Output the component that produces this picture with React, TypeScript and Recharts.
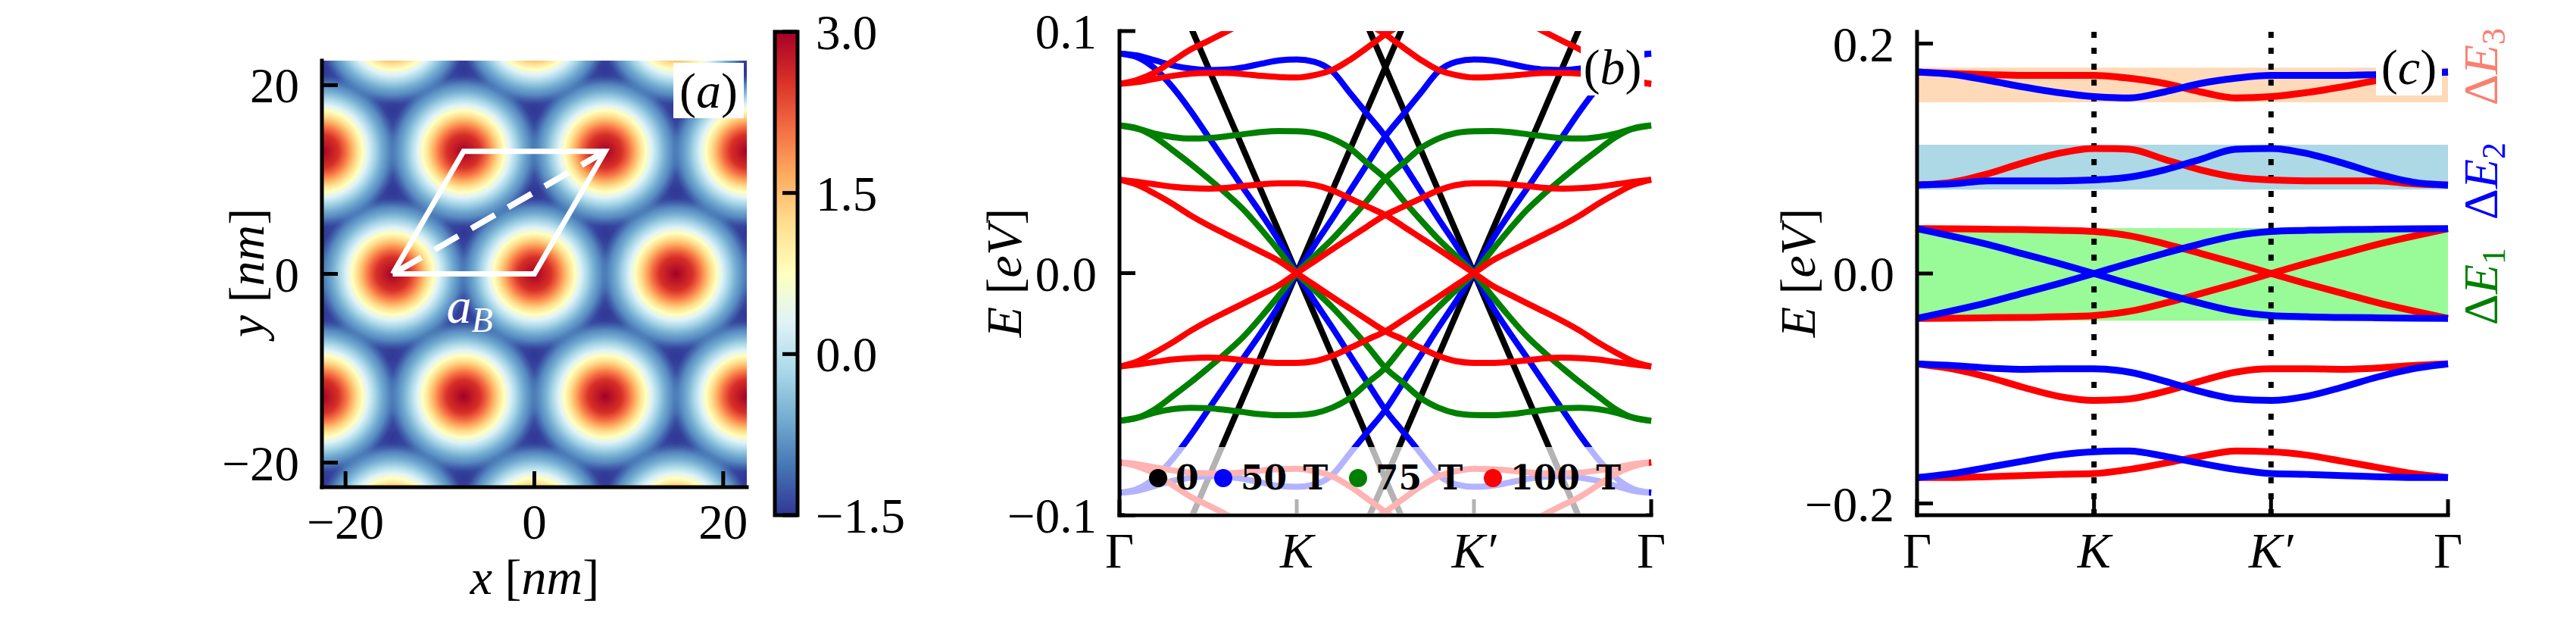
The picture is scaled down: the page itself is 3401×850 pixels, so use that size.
import React from 'react';
import {
  ComposedChart,
  Line,
  Scatter,
  XAxis,
  YAxis,
  ReferenceArea,
  ReferenceLine,
  CartesianGrid,
} from 'recharts';

const SERIF = '"Liberation Serif", "DejaVu Serif", serif';
const TICK_FONT = 65;

// ---------- (a) moiré potential, lattice sites (nm) ----------
const potentialMaxima: [number, number][] = [
  [-30, 0], [-15, 0], [0, 0], [15, 0], [30, 0],
  [-22.5, 12.99], [-7.5, 12.99], [7.5, 12.99], [22.5, 12.99],
  [-22.5, -12.99], [-7.5, -12.99], [7.5, -12.99], [22.5, -12.99],
  [-30, 25.98], [-15, 25.98], [0, 25.98], [15, 25.98], [30, 25.98],
  [-30, -25.98], [-15, -25.98], [0, -25.98], [15, -25.98], [30, -25.98],
];
const potentialMinima: [number, number][] = [
  [-22.5, 4.33], [-7.5, 4.33], [7.5, 4.33], [22.5, 4.33],
  [-30, 8.66], [-15, 8.66], [0, 8.66], [15, 8.66], [30, 8.66],
  [-30, 17.32], [-15, 17.32], [0, 17.32], [15, 17.32], [30, 17.32],
  [-22.5, 21.65], [-7.5, 21.65], [7.5, 21.65], [22.5, 21.65],
  [-22.5, -4.33], [-7.5, -4.33], [7.5, -4.33], [22.5, -4.33],
  [-30, -8.66], [-15, -8.66], [0, -8.66], [15, -8.66], [30, -8.66],
  [-30, -17.32], [-15, -17.32], [0, -17.32], [15, -17.32], [30, -17.32],
  [-22.5, -21.65], [-7.5, -21.65], [7.5, -21.65], [22.5, -21.65],
];
const unitCell: [number, number][] = [[-15, 0], [0, 0], [7.5, 12.99], [-7.5, 12.99], [-15, 0]];
const cellDiagonal: [number, number][] = [[7.5, 12.99], [-15, 0]];
const spaceTicks = [-20, 0, 20];
const colorbarRange = [-1.5, 3.0];
const colorbarTicks = [-1.5, 0, 1.5, 3.0];

// ---------- (b) bands along Γ-K-K'-Γ for several fields ----------
const kPath = [0, 0.1, 0.2, 0.3, 0.4, 0.5, 0.6, 0.7, 0.8, 0.9, 1, 1.1, 1.2, 1.3, 1.4, 1.5,
  1.6, 1.7, 1.8, 1.9, 2, 2.1, 2.2, 2.3, 2.4, 2.5, 2.6, 2.7, 2.8, 2.9, 3];
const kPathRev = [3, 2.9, 2.8, 2.7, 2.6, 2.5, 2.4, 2.3, 2.2, 2.1, 2, 1.9, 1.8, 1.7, 1.6, 1.5,
  1.4, 1.3, 1.2, 1.1, 1, 0.9, 0.8, 0.7, 0.6, 0.5, 0.4, 0.3, 0.2, 0.1, 0];
const kTicks = [0, 1, 2, 3];
const kLabels = ['Γ', 'K', 'K′', 'Γ'];
const energyTicksB = [-0.1, 0, 0.1];

const fieldLabels = ['0', '50 T', '75 T', '100 T'];
const fieldColors = ['#000000', '#0000ff', '#008000', '#ff0000'];

const cone0TX = [0.3, 0.4, 0.5, 0.6, 0.7, 0.8, 0.9, 1, 1.1, 1.2, 1.3, 1.4, 1.5, 1.6, 1.7];
const cone0TXp = [1.3, 1.4, 1.5, 1.6, 1.7, 1.8, 1.9, 2, 2.1, 2.2, 2.3, 2.4, 2.5, 2.6, 2.7];
const cone0TDown = [0.119, 0.102, 0.085, 0.068, 0.051, 0.034, 0.017, 0, -0.017, -0.034, -0.051, -0.068, -0.085, -0.102, -0.119];
const cone0TUp = [-0.119, -0.102, -0.085, -0.068, -0.051, -0.034, -0.017, 0, 0.017, 0.034, 0.051, 0.068, 0.085, 0.102, 0.119];

const band50T = [0.0907, 0.0899, 0.0879, 0.0858, 0.0845, 0.0839, 0.0841, 0.085, 0.0865, 0.0879, 0.0883,
  0.0873, 0.0834, 0.0745, 0.0655, 0.0565, 0.0453, 0.0339, 0.0224, 0.0115, 0,
  -0.0133, -0.0245, -0.035, -0.0458, -0.0565, -0.0672, -0.0768, -0.0845, -0.0892, -0.0907];
const band50TNeg = [-0.0907, -0.0899, -0.0879, -0.0858, -0.0845, -0.0839, -0.0841, -0.085, -0.0865, -0.0879, -0.0883,
  -0.0873, -0.0834, -0.0745, -0.0655, -0.0565, -0.0453, -0.0339, -0.0224, -0.0115, 0,
  0.0133, 0.0245, 0.035, 0.0458, 0.0565, 0.0672, 0.0768, 0.0845, 0.0892, 0.0907];

const band75T = [0.061, 0.0597, 0.0576, 0.0562, 0.0556, 0.0558, 0.0565, 0.0574, 0.0583, 0.0587, 0.0586,
  0.0579, 0.0556, 0.0516, 0.0453, 0.0391, 0.0302, 0.0219, 0.014, 0.007, 0,
  -0.0092, -0.018, -0.0262, -0.033, -0.0392, -0.0452, -0.0508, -0.0562, -0.0598, -0.061];
const band75TNeg = [-0.061, -0.0597, -0.0576, -0.0562, -0.0556, -0.0558, -0.0565, -0.0574, -0.0583, -0.0587, -0.0586,
  -0.0579, -0.0556, -0.0516, -0.0453, -0.0391, -0.0302, -0.0219, -0.014, -0.007, 0,
  0.0092, 0.018, 0.0262, 0.033, 0.0392, 0.0452, 0.0508, 0.0562, 0.0598, 0.061];

const band100TOuter = [0.0782, 0.0789, 0.0803, 0.0815, 0.0824, 0.0827, 0.0827, 0.0822, 0.0815, 0.081, 0.0808,
  0.0818, 0.0839, 0.0881, 0.0933, 0.0986, 0.103, 0.1065, 0.109, 0.11, 0.11,
  0.109, 0.107, 0.1035, 0.0996, 0.0959, 0.0923, 0.0876, 0.0829, 0.0798, 0.0782];
const band100TOuterNeg = [-0.0782, -0.0789, -0.0803, -0.0815, -0.0824, -0.0827, -0.0827, -0.0822, -0.0815, -0.081, -0.0808,
  -0.0818, -0.0839, -0.0881, -0.0933, -0.0986, -0.103, -0.1065, -0.109, -0.11, -0.11,
  -0.109, -0.107, -0.1035, -0.0996, -0.0959, -0.0923, -0.0876, -0.0829, -0.0798, -0.0782];
const band100TInner = [0.0386, 0.0377, 0.0367, 0.0357, 0.0351, 0.0349, 0.0352, 0.036, 0.0367, 0.0371, 0.0371,
  0.0364, 0.0342, 0.0309, 0.0274, 0.024, 0.0194, 0.0146, 0.0098, 0.0049, 0,
  -0.005, -0.0088, -0.0125, -0.0161, -0.0198, -0.0239, -0.0286, -0.0328, -0.0365, -0.0386];
const band100TInnerNeg = [-0.0386, -0.0377, -0.0367, -0.0357, -0.0351, -0.0349, -0.0352, -0.036, -0.0367, -0.0371, -0.0371,
  -0.0364, -0.0342, -0.0309, -0.0274, -0.024, -0.0194, -0.0146, -0.0098, -0.0049, 0,
  0.005, 0.0088, 0.0125, 0.0161, 0.0198, 0.0239, 0.0286, 0.0328, 0.0365, 0.0386];

// ---------- (c) two valleys with gap windows ----------
const kc = [0, 0.2, 0.4, 0.6, 0.8, 1, 1.2, 1.4, 1.6, 1.8, 2, 2.2, 2.4, 2.6, 2.8, 3];
const kcRev = [3, 2.8, 2.6, 2.4, 2.2, 2, 1.8, 1.6, 1.4, 1.2, 1, 0.8, 0.6, 0.4, 0.2, 0];
const energyTicksC = [-0.2, 0, 0.2];

const bandTop = [0.1752, 0.1731, 0.168, 0.1623, 0.1573, 0.1538, 0.1527, 0.158, 0.1652, 0.1698, 0.1723, 0.1723, 0.1723, 0.173, 0.174, 0.1752];
const bandUpper = [0.077, 0.0781, 0.0806, 0.0806, 0.0806, 0.0813, 0.0838, 0.0902, 0.0992, 0.1081, 0.1088, 0.1045, 0.0963, 0.0867, 0.0795, 0.077];
const bandDirac = [0.039, 0.0324, 0.0253, 0.017, 0.0088, 0, -0.009, -0.0176, -0.0258, -0.0329, -0.0365, -0.0376, -0.0383, -0.0385, -0.0389, -0.039];
const bandDiracNeg = [-0.039, -0.0324, -0.0253, -0.017, -0.0088, 0, 0.009, 0.0176, 0.0258, 0.0329, 0.0365, 0.0376, 0.0383, 0.0385, 0.0389, 0.039];
const bandLower = [-0.0786, -0.08, -0.0822, -0.0833, -0.0829, -0.0829, -0.0858, -0.0936, -0.1026, -0.109, -0.1104, -0.1068, -0.099, -0.0901, -0.0829, -0.0786];
const bandBottom = [-0.1775, -0.174, -0.1686, -0.1632, -0.1579, -0.155, -0.1543, -0.159, -0.165, -0.1704, -0.174, -0.1747, -0.1757, -0.1768, -0.1775, -0.1775];

const gapLow = [-0.041, 0.073, 0.149];
const gapHigh = [0.0396, 0.112, 0.179];
const gapIndex = ['1', '2', '3'];

// ---------- styles ----------
const RDYLBU_R = ['#313695', '#4575b4', '#74add1', '#abd9e9', '#e0f3f8', '#ffffbf', '#fee090', '#fdae61', '#f46d43', '#d73027', '#a50026'];
const HOT_STOPS: [number, string, number][] = [
  [0, '#a50026', 1], [0.22, '#d73027', 1], [0.315, '#f46d43', 1], [0.395, '#fdae61', 1], [0.468, '#fee090', 1],
  [0.54, '#ffffbf', 1], [0.613, '#e0f3f8', 1], [0.695, '#abd9e9', 1], [0.795, '#74add1', 1], [0.88, '#5a8fc3', 0.9], [1, '#4575b4', 0],
];
const PX_PER_NM = 561 / 45;
const HOT_R = 8.0 * PX_PER_NM;
const COLD_R = 4.6 * PX_PER_NM;
const GAP_FILLS = ['#98fb98', '#add8e6', '#ffdab9'];
const GAP_TEXT = ['#008000', '#0000ff', '#fa8072'];
const LEGEND_X = [48, 134, 312, 490];

const frame = { stroke: '#000', strokeWidth: 5, strokeLinecap: 'square' as const };
const tickLineStyle = { stroke: '#000', strokeWidth: 5 };
const tickText = { fontSize: TICK_FONT, fontFamily: SERIF, fill: '#000' };

const fmt = (digits: number) => (v: number) => (v < 0 ? '\u2212' : '') + Math.abs(v).toFixed(digits);
const toXY = (pts: [number, number][]) => pts.map(([x, y]) => ({ x, y }));
const toPoints = (xs: number[], es: number[]) =>
  xs.map((k, i) => ({ k, e: es[i] })).sort((a, b) => a.k - b.k);

const HotSpot = (p: any) => <circle cx={p.cx} cy={p.cy} r={HOT_R} fill="url(#hotSpot)" />;
const ColdSpot = (p: any) => <circle cx={p.cx} cy={p.cy} r={COLD_R} fill="url(#coldSpot)" />;
const NoMark = () => <g />;
const LatticeLabel = (p: any) => (
  <text x={p.cx} y={p.cy} fill="#fff" fontFamily={SERIF} fontSize={66} fontStyle="italic">
    a<tspan fontSize={46} dy={12}>B</tspan>
  </text>
);

const KTick = (p: any) => {
  const label = kLabels[kTicks.indexOf(p.payload.value)];
  return (
    <text x={p.x} y={p.y} dy="0.71em" textAnchor="middle" fontFamily={SERIF} fontSize={66}
      fontStyle={label === 'Γ' ? 'normal' : 'italic'} fill="#000">
      {label}
    </text>
  );
};

const Rotated = ({ cx, cy, color = '#000', size = 66, children }: any) => (
  <div style={{
    position: 'absolute', left: cx, top: cy, transform: 'translate(-50%, -50%) rotate(-90deg)',
    whiteSpace: 'nowrap', fontSize: size, lineHeight: 0.9, color, fontFamily: SERIF,
  }}>{children}</div>
);

const PanelTag = ({ left, top, width, height, tag }: any) => (
  <div style={{
    position: 'absolute', left, top, width, height, background: '#fff', display: 'flex',
    alignItems: 'center', justifyContent: 'center', fontFamily: SERIF, fontSize: 66, lineHeight: 1,
  }}>(<i>{tag}</i>)</div>
);

const PanelA = () => (
  <ComposedChart width={800} height={850} margin={{ top: 80, right: 14, bottom: 107, left: 0 }}>
    <defs>
      <radialGradient id="hotSpot">
        {HOT_STOPS.map(([o, c, a], i) => <stop key={i} offset={o} stopColor={c} stopOpacity={a} />)}
      </radialGradient>
      <radialGradient id="coldSpot">
        <stop offset={0} stopColor="#313695" stopOpacity={1} />
        <stop offset={0.45} stopColor="#36479f" stopOpacity={0.85} />
        <stop offset={1} stopColor="#4575b4" stopOpacity={0} />
      </radialGradient>
    </defs>
    <CartesianGrid horizontal={false} vertical={false} fill="#4575b4" fillOpacity={1} />
    <Scatter data={toXY(potentialMinima)} shape={ColdSpot} isAnimationActive={false} legendType="none" />
    <Scatter data={toXY(potentialMaxima)} shape={HotSpot} isAnimationActive={false} legendType="none" />
    <Scatter data={toXY(unitCell)} shape={NoMark} line={{ stroke: '#fff', strokeWidth: 7 }} lineType="joint"
      isAnimationActive={false} legendType="none" />
    <Scatter data={toXY(cellDiagonal)} shape={NoMark}
      line={{ stroke: '#fff', strokeWidth: 8, strokeDasharray: '36 20' }} lineType="joint"
      isAnimationActive={false} legendType="none" />
    <Scatter data={[{ x: -9.3, y: -5.2 }]} shape={LatticeLabel} isAnimationActive={false} legendType="none" />
    <XAxis type="number" dataKey="x" domain={[-22.5, 22.5]} ticks={spaceTicks} allowDataOverflow interval={0}
      height={100} tickSize={-21} tickMargin={43} tickFormatter={fmt(0)} tick={tickText}
      axisLine={frame} tickLine={tickLineStyle} zIndex={900} />
    <XAxis xAxisId="top" orientation="top" type="number" domain={[-22.5, 22.5]} ticks={spaceTicks}
      allowDataOverflow interval={0} height={0} tickSize={-21} tick={false} axisLine={frame} tickLine={tickLineStyle} zIndex={900} />
    <YAxis type="number" dataKey="y" domain={[-22.6, 22.6]} ticks={spaceTicks} allowDataOverflow interval={0}
      width={225} tickSize={-21} tickMargin={51} tickFormatter={fmt(0)} tick={tickText}
      axisLine={frame} tickLine={tickLineStyle} zIndex={900} />
    <YAxis yAxisId="right" orientation="right" type="number" domain={[-22.6, 22.6]} ticks={spaceTicks}
      allowDataOverflow interval={0} width={0} tickSize={-21} tick={false} axisLine={frame} tickLine={tickLineStyle} zIndex={900} />
  </ComposedChart>
);

const Colorbar = () => (
  <ComposedChart width={240} height={850} margin={{ top: 42, right: 40, bottom: 170, left: 43 }}
    data={colorbarRange.map((v, i) => ({ x: i, v }))}>
    <defs>
      <linearGradient id="rdylbu" x1="0" y1="1" x2="0" y2="0">
        {RDYLBU_R.map((c, i) => <stop key={i} offset={i / (RDYLBU_R.length - 1)} stopColor={c} />)}
      </linearGradient>
    </defs>
    <ReferenceArea x1={0} x2={1} y1={-1.5} y2={3} fill="url(#rdylbu)" fillOpacity={1} stroke="#000" strokeWidth={5} />
    <XAxis type="number" dataKey="x" domain={[0, 1]} hide />
    <YAxis type="number" dataKey="v" orientation="right" domain={[-1.5, 3]} ticks={colorbarTicks} interval={0}
      width={127} tickSize={-20} tickMargin={44} tickFormatter={fmt(1)} tick={tickText}
      axisLine={false} tickLine={tickLineStyle} />
  </ComposedChart>
);

const curvesB = [
  { color: '#000000', linear: true, pts: toPoints(cone0TX, cone0TDown) },
  { color: '#000000', linear: true, pts: toPoints(cone0TX, cone0TUp) },
  { color: '#000000', linear: true, pts: toPoints(cone0TXp, cone0TDown) },
  { color: '#000000', linear: true, pts: toPoints(cone0TXp, cone0TUp) },
  { color: '#0000ff', pts: toPoints(kPath, band50T) },
  { color: '#0000ff', pts: toPoints(kPathRev, band50T) },
  { color: '#0000ff', pts: toPoints(kPath, band50TNeg) },
  { color: '#0000ff', pts: toPoints(kPathRev, band50TNeg) },
  { color: '#008000', pts: toPoints(kPath, band75T) },
  { color: '#008000', pts: toPoints(kPathRev, band75T) },
  { color: '#008000', pts: toPoints(kPath, band75TNeg) },
  { color: '#008000', pts: toPoints(kPathRev, band75TNeg) },
  { color: '#ff0000', pts: toPoints(kPath, band100TOuter) },
  { color: '#ff0000', pts: toPoints(kPathRev, band100TOuter) },
  { color: '#ff0000', pts: toPoints(kPath, band100TOuterNeg) },
  { color: '#ff0000', pts: toPoints(kPathRev, band100TOuterNeg) },
  { color: '#ff0000', pts: toPoints(kPath, band100TInner) },
  { color: '#ff0000', pts: toPoints(kPathRev, band100TInner) },
  { color: '#ff0000', pts: toPoints(kPath, band100TInnerNeg) },
  { color: '#ff0000', pts: toPoints(kPathRev, band100TInnerNeg) },
];

const bandAxes = (domain: [number, number], ticks: number[], yWidth: number) => [
  <XAxis key="xb" type="number" dataKey="k" domain={[0, 3]} ticks={kTicks} interval={0} height={100}
    tickSize={-21} tickMargin={43} tick={<KTick />} axisLine={frame} tickLine={tickLineStyle} />,
  <XAxis key="xt" xAxisId="top" orientation="top" type="number" domain={[0, 3]} ticks={kTicks} interval={0}
    height={0} tickSize={-21} tick={false} axisLine={frame} tickLine={tickLineStyle} />,
  <YAxis key="yl" type="number" dataKey="e" domain={domain} ticks={ticks} allowDataOverflow interval={0}
    width={yWidth} tickSize={-21} tickMargin={51} tickFormatter={fmt(1)} tick={tickText}
    axisLine={frame} tickLine={tickLineStyle} />,
  <YAxis key="yr" yAxisId="right" orientation="right" type="number" domain={domain} ticks={ticks}
    allowDataOverflow interval={0} width={0} tickSize={-21} tick={false} axisLine={frame} tickLine={tickLineStyle} />,
];

const PanelB = () => (
  <ComposedChart width={950} height={850} margin={{ top: 41, right: 70, bottom: 70, left: 0 }}>
    {curvesB.map((c, i) => (
      <Line key={i} data={c.pts} dataKey="e" type={c.linear ? 'linear' : 'monotone'} stroke={c.color}
        strokeWidth={8} dot={false} activeDot={false} isAnimationActive={false} legendType="none" />
    ))}
    {bandAxes([-0.1, 0.1], energyTicksB, 178)}
  </ComposedChart>
);

const curvesC = [bandTop, bandUpper, bandDirac, bandDiracNeg, bandLower, bandBottom];

const PanelC = () => (
  <ComposedChart width={1041} height={850} margin={{ top: 42, right: 169, bottom: 70, left: 0 }}>
    {gapLow.map((lo, i) => (
      <ReferenceArea key={'g' + i} y1={lo} y2={gapHigh[i]} fill={GAP_FILLS[i]} fillOpacity={1} stroke="none" zIndex={100} />
    ))}
    {[1, 2].map((k) => (
      <ReferenceLine key={'v' + k} x={k} stroke="#000" strokeWidth={7} strokeDasharray="8 13" zIndex={300} />
    ))}
    {curvesC.map((es, i) => (
      <Line key={'r' + i} data={toPoints(kcRev, es)} dataKey="e" type="monotone" stroke="#ff0000" strokeWidth={9}
        dot={false} activeDot={false} isAnimationActive={false} legendType="none" />
    ))}
    {curvesC.map((es, i) => (
      <Line key={'b' + i} data={toPoints(kc, es)} dataKey="e" type="monotone" stroke="#0000ff" strokeWidth={9}
        dot={false} activeDot={false} isAnimationActive={false} legendType="none" />
    ))}
    {bandAxes([-0.2102, 0.2102], energyTicksC, 171)}
  </ComposedChart>
);

export default function App() {
  return (
    <div style={{ position: 'absolute', left: 0, top: 0, width: 3401, height: 850, background: '#fff', overflow: 'hidden', fontFamily: SERIF }}>
      <div style={{ position: 'absolute', left: 200, top: 0 }}><PanelA /></div>
      <div style={{ position: 'absolute', left: 980, top: 0 }}><Colorbar /></div>
      <div style={{ position: 'absolute', left: 1300, top: 0 }}><PanelB /></div>
      <div style={{ position: 'absolute', left: 2360, top: 0 }}><PanelC /></div>

      <Rotated cx={326} cy={360}><i>y</i> [<i>nm</i>]</Rotated>
      <div style={{ position: 'absolute', left: 706, top: 762, transform: 'translate(-50%, -50%)', fontSize: 66, lineHeight: 1, whiteSpace: 'nowrap' }}>
        <i>x</i> [<i>nm</i>]
      </div>
      <PanelTag left={889} top={83} width={93} height={73} tag="a" />

      <Rotated cx={1326} cy={360}><i>E</i> [<i>eV</i>]</Rotated>
      <PanelTag left={2087} top={52} width={84} height={74} tag="b" />
      <div style={{
        position: 'absolute', left: 1481, top: 590, width: 696, height: 88, background: 'rgba(255,255,255,0.7)',
        borderRadius: 6, fontFamily: '"DejaVu Serif", serif', fontWeight: 'bold', fontSize: 44, lineHeight: 1,
      }}>
        {fieldLabels.map((lab, i) => (
          <div key={lab} style={{ position: 'absolute', left: LEGEND_X[i] - 12, top: 41, transform: 'translateY(-50%)', display: 'flex', alignItems: 'center', whiteSpace: 'nowrap' }}>
            <span style={{ width: 24, height: 24, borderRadius: '50%', background: fieldColors[i], marginRight: 11 }} />
            <span style={{ wordSpacing: 6 }}>{lab}</span>
          </div>
        ))}
      </div>

      <Rotated cx={2374} cy={360}><i>E</i> [<i>eV</i>]</Rotated>
      <PanelTag left={3137} top={52} width={87} height={74} tag="c" />
      {[378, 239, 88].map((cy, i) => (
        <Rotated key={i} cx={3276} cy={cy} color={GAP_TEXT[i]} size={64}>
          Δ<i>E</i><sub style={{ fontSize: 44, verticalAlign: 'baseline', position: 'relative', top: 10 }}>{gapIndex[i]}</sub>
        </Rotated>
      ))}
    </div>
  );
}
